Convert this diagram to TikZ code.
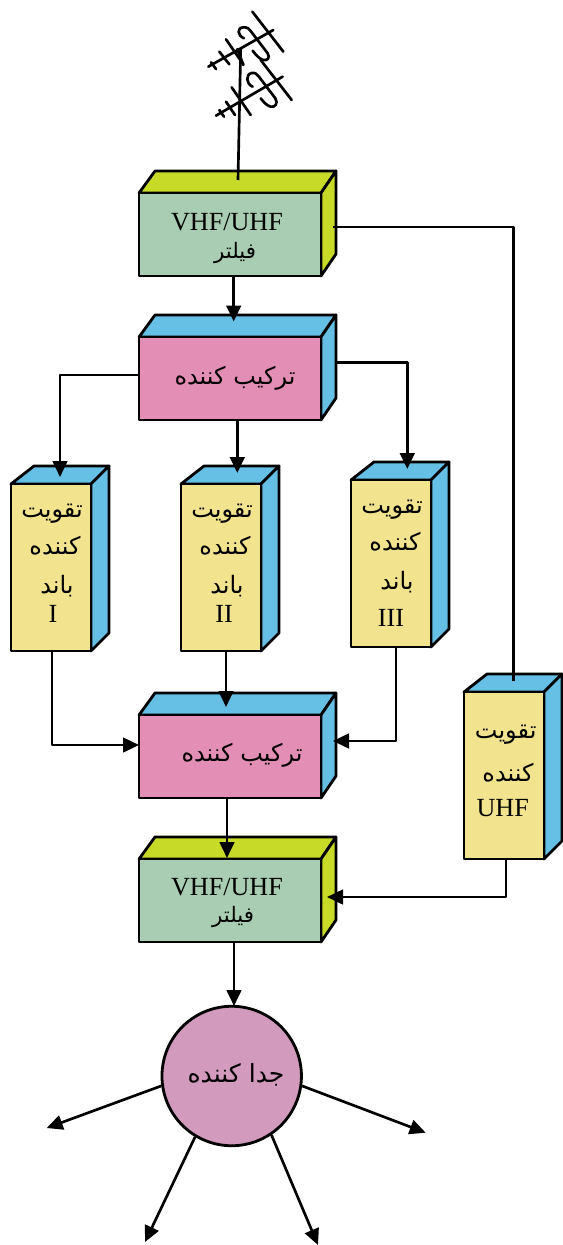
\documentclass[tikz,border=0pt]{standalone}
\usepackage{fontspec}
\setmainfont{Liberation Serif}
\newfontfamily\arabicfont[Script=Arabic]{DejaVu Sans}
\TeXXeTstate=1
\usetikzlibrary{arrows.meta}
\definecolor{filtfront}{HTML}{A8CDB2}
\definecolor{filtside}{HTML}{C8DA28}
\definecolor{combfront}{HTML}{E38FB5}
\definecolor{combside}{HTML}{66C0E6}
\definecolor{ampfront}{HTML}{F2E48E}
\definecolor{ampside}{HTML}{66C0E6}
\definecolor{ccirc}{HTML}{D29ABD}
\newcommand{\fa}[2][18]{{\arabicfont\fontsize{#1}{#1}\selectfont\beginR #2\endR}}
\newcommand{\en}[1]{{\fontsize{19.6}{19.6}\selectfont #1}}
% name, x0,y0 (front top-left), x1,y1 (front bottom-right), xb (back left), xr (back right), yb (back top), kind
\newcommand{\threedblock}[9]{%
  \path[face,fill=#9side] (#2,#3) -- (#6,#8) -- (#7,#8) -- (#4,#3) -- cycle;
  \path[face,fill=#9side] (#4,#3) -- (#7,#8) -- (#7,#5+#8-#3) -- (#4,#5) -- cycle;
  \node[face,fill=#9front,rectangle,inner sep=0pt,outer sep=0pt,anchor=north west,
    minimum width={(#4-#2)*0.75pt},minimum height={(#5-#3)*0.75pt}] (#1) at (#2,#3) {};
}
\tikzset{
  x=0.75pt,y=-0.75pt,
  face/.style={draw=black,line width=2.1pt,line join=round},
  wire/.style={line width=2pt,draw=black,line join=round},
  arr/.style={wire,-{Triangle[length=12pt,width=11pt]}},
  ant/.style={line width=2pt,draw=black,line cap=round},
  lab/.style={inner sep=0pt,align=center,text=black},
}
\begin{document}
\begin{tikzpicture}
\useasboundingbox (0,0) rectangle (563,1245);
\threedblock{filtA}{139}{193}{321}{276}{155}{336}{171}{filt}
\threedblock{combA}{139}{337}{321}{420}{155}{336}{315}{comb}
\threedblock{ampI}{11}{484}{91}{651}{34}{109}{466}{amp}
\threedblock{ampII}{181}{484}{261}{651}{204}{279}{466}{amp}
\threedblock{ampIII}{351}{480}{431}{647}{374}{449}{462}{amp}
\threedblock{ampU}{464}{692}{544}{859}{487}{562}{674}{amp}
\threedblock{combB}{139}{715}{321}{798}{155}{336}{693}{comb}
\threedblock{filtB}{139}{859}{321}{942}{155}{336}{837}{filt}
\node[circle,draw=black,fill=ccirc,line width=2.1pt,minimum size=104.6pt,inner sep=0pt] (split) at (231.7,1076) {};
% texts
\node[lab] (t1a) at (227,222) {\en{VHF/UHF}};
\node[lab] (t1b) at (235,253) {\fa[16]{فیلتر}};
\node[lab] (t2) at (235,378) {\fa{ترکیب کننده}};
\node[lab] (t3a) at (52,514) {\fa{تقویت}};
\node[lab] (t3b) at (55,546) {\fa{کننده}};
\node[lab] (t3c) at (57,586) {\fa{باند}};
\node[lab] (t3d) at (53,614) {\en{I}};
\node[lab] (t4a) at (222,514) {\fa{تقویت}};
\node[lab] (t4b) at (225,546) {\fa{کننده}};
\node[lab] (t4c) at (227,586) {\fa{باند}};
\node[lab] (t4d) at (224,614) {\en{II}};
\node[lab] (t5a) at (392,510) {\fa{تقویت}};
\node[lab] (t5b) at (395,542) {\fa{کننده}};
\node[lab] (t5c) at (397,582) {\fa{باند}};
\node[lab] (t5d) at (391,618) {\en{III}};
\node[lab] (t6a) at (505.7,735) {\fa{تقویت}};
\node[lab] (t6b) at (508,773) {\fa{کننده}};
\node[lab] (t6c) at (502.7,808) {\en{UHF}};
\node[lab] (t9) at (242,755) {\fa{ترکیب کننده}};
\node[lab] (t7) at (236,1075) {\fa[18.8]{جدا کننده}};
\node[lab] (t8a) at (227,887) {\en{VHF/UHF}};
\node[lab] (t8b) at (233,917) {\fa[16]{فیلتر}};
% free connector ends
\coordinate (mastbase) at (238,180);
\coordinate (masttop) at (240.7,48);
\coordinate (uhfout) at (332.5,227);
\coordinate (uhfin) at (513.3,681);
\coordinate (inA) at (233.7,321.5);
\coordinate (inI) at (60,477);
\coordinate (inII) at (237.3,473);
\coordinate (inIII) at (407.3,469);
\coordinate (outIII) at (336,362.7);
\coordinate (leftA) at (60,375);
\coordinate (inB2) at (226,707);
\coordinate (inB3) at (333,741);
\coordinate (inF) at (227,858);
\coordinate (inFU) at (327,897);
\coordinate (inS) at (234,1006);
\coordinate (o1) at (46.7,1128);
\coordinate (o2) at (425.7,1132.7);
\coordinate (o3) at (145,1242);
\coordinate (o4) at (318,1245);
% connectors
\draw[wire] (uhfout) -| (uhfin);
\draw[arr] (filtA.south -| inA) -- (inA);
\draw[arr] (leftA -| combA.west) -- (leftA) -- (inI);
\draw[arr] (combA.south -| inII) -- (inII);
\draw[arr] (outIII) -| (inIII);
\draw[arr] (ampI.south -| 52,0) -- (52,745) -- (combB.west |- 0,745);
\draw[arr] (ampII.south -| inB2) -- (inB2);
\draw[arr] (ampIII.south -| 396,0) -- (396,741) -- (inB3);
\draw[arr] (combB.south -| inF) -- (inF);
\draw[arr] (ampU.south -| 506,0) -- (506,897) -- (inFU);
\draw[arr] (filtB.south -| inS) -- (inS);
\draw[arr] (split.188) -- (o1);
\draw[arr] (split.-8) -- (o2);
\draw[arr] (split.239) -- (o3);
\draw[arr] (split.-56) -- (o4);
% antenna
\draw[wire] (mastbase) -- (masttop);
\begin{scope}[shift={(200,5)},x=0.25pt,y=-0.25pt]
  \draw[ant] (25,185) -- (220,75);
  \draw[ant] (33,172) -- (48,192);
  \draw[ant] (58,140) -- (88,178);
  \draw[ant] (78,103) -- (130,178);
  \draw[ant] (157,20) -- (250,140);
  \draw[ant] (112,132) -- (130,180);
  \draw[ant] (132,100) .. controls (112,92) and (110,68) .. (130,67)
     .. controls (142,66) and (148,72) .. (152,78) -- (203,145)
     .. controls (212,160) and (200,168) .. (190,165)
     .. controls (178,162) and (168,150) .. (158,137);
  \draw[ant] (48,332) -- (248,215);
  \draw[ant] (58,315) -- (72,335);
  \draw[ant] (78,290) -- (105,330);
  \draw[ant] (95,247) -- (152,330);
  \draw[ant] (182,165) -- (275,285);
  \draw[ant] (158,245) .. controls (138,237) and (136,208) .. (155,204)
     .. controls (165,202) and (172,208) .. (176,214) -- (226,280)
     .. controls (236,296) and (224,308) .. (212,305)
     .. controls (200,302) and (190,290) .. (182,280);
\end{scope}
\end{tikzpicture}
\end{document}
